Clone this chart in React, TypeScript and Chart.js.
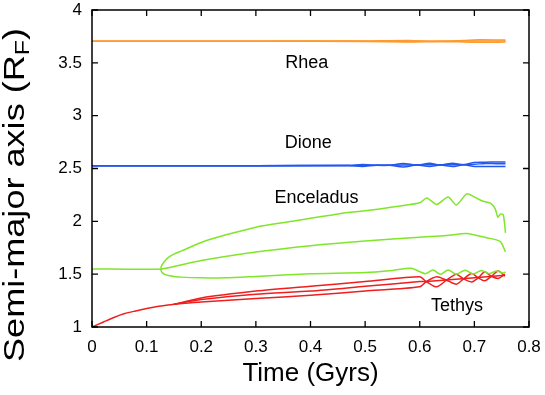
import React, { useEffect, useRef } from 'react';
import { Chart, registerables } from 'chart.js';

Chart.register(...registerables);

type P = [number, number];

// ---- axis ranges / ticks ----
const xRange: P = [0, 0.8];
const yRange: P = [1, 4];
const xStep = 0.1;
const yStep = 0.5;

// ---- Rhea (orange) ----
const rheaA: P[] = [[0, 3.705], [0.3, 3.705], [0.5, 3.707], [0.58, 3.711], [0.64, 3.702], [0.7, 3.717], [0.757, 3.715]];
const rheaB: P[] = [[0, 3.705], [0.3, 3.705], [0.5, 3.705], [0.58, 3.703], [0.64, 3.706], [0.7, 3.706], [0.757, 3.706]];
const rheaC: P[] = [[0, 3.705], [0.3, 3.705], [0.5, 3.703], [0.58, 3.698], [0.64, 3.703], [0.7, 3.694], [0.757, 3.696]];

// ---- Dione (blue) ----
const dioneA: P[] = [[0, 2.525], [0.3, 2.527], [0.47, 2.528], [0.495, 2.538], [0.52, 2.53], [0.545, 2.53], [0.57, 2.548], [0.595, 2.532], [0.618, 2.55], [0.638, 2.533], [0.66, 2.55], [0.68, 2.535], [0.7, 2.558], [0.72, 2.56], [0.74, 2.562], [0.757, 2.562]];
const dioneB: P[] = [[0, 2.525], [0.3, 2.527], [0.47, 2.528], [0.495, 2.53], [0.52, 2.53], [0.57, 2.532], [0.618, 2.535], [0.66, 2.535], [0.7, 2.54], [0.72, 2.548], [0.74, 2.545], [0.757, 2.545]];
const dioneC: P[] = [[0, 2.525], [0.3, 2.527], [0.47, 2.528], [0.495, 2.52], [0.52, 2.53], [0.545, 2.53], [0.57, 2.515], [0.595, 2.532], [0.618, 2.518], [0.638, 2.533], [0.66, 2.518], [0.68, 2.535], [0.7, 2.52], [0.72, 2.518], [0.74, 2.52], [0.757, 2.52]];

// ---- Enceladus (green) ----
const enceladusUpper: P[] = [[0.126, 1.55], [0.1262, 1.56], [0.127, 1.575], [0.129, 1.595], [0.132, 1.615], [0.136, 1.64], [0.14, 1.66], [0.15, 1.69], [0.164, 1.72], [0.2, 1.8], [0.244, 1.87], [0.3, 1.945], [0.366, 2.0], [0.4, 2.03], [0.44, 2.06], [0.472, 2.085], [0.5, 2.1], [0.53, 2.12], [0.564, 2.145], [0.6, 2.175], [0.613, 2.22], [0.631, 2.16], [0.652, 2.23], [0.667, 2.155], [0.686, 2.26], [0.7, 2.23], [0.716, 2.19], [0.73, 2.17], [0.738, 2.12], [0.743, 2.04], [0.748, 2.07], [0.753, 2.06], [0.757, 1.89]];
const enceladusMiddle: P[] = [[0, 1.55], [0.126, 1.55], [0.164, 1.59], [0.2, 1.63], [0.3, 1.71], [0.4, 1.77], [0.5, 1.815], [0.6, 1.85], [0.649, 1.865], [0.686, 1.885], [0.722, 1.845], [0.747, 1.81], [0.757, 1.71]];
const enceladusLower: P[] = [[0.126, 1.55], [0.1262, 1.54], [0.127, 1.527], [0.129, 1.512], [0.133, 1.498], [0.14, 1.488], [0.15, 1.479], [0.164, 1.472], [0.2, 1.466], [0.244, 1.465], [0.3, 1.478], [0.4, 1.503], [0.5, 1.515], [0.55, 1.535], [0.584, 1.555], [0.61, 1.505], [0.624, 1.54], [0.638, 1.5], [0.652, 1.54], [0.667, 1.5], [0.683, 1.537], [0.698, 1.502], [0.713, 1.535], [0.727, 1.505], [0.741, 1.53], [0.752, 1.51], [0.757, 1.52]];

// ---- Tethys (red) ----
const tethysA: P[] = [[0, 1.0], [0.02, 1.045], [0.04, 1.09], [0.06, 1.127], [0.08, 1.152], [0.1, 1.175], [0.122, 1.196], [0.15, 1.215], [0.2, 1.275], [0.3, 1.34], [0.4, 1.386], [0.5, 1.43], [0.6, 1.475], [0.612, 1.43], [0.631, 1.38], [0.649, 1.443], [0.667, 1.5], [0.68, 1.455], [0.695, 1.427], [0.707, 1.465], [0.719, 1.522], [0.731, 1.48], [0.744, 1.46], [0.756, 1.5]];
const tethysB: P[] = [[0.15, 1.215], [0.2, 1.26], [0.3, 1.31], [0.4, 1.34], [0.5, 1.385], [0.6, 1.43], [0.612, 1.43], [0.756, 1.49]];
const tethysC: P[] = [[0.15, 1.215], [0.2, 1.237], [0.3, 1.27], [0.4, 1.3], [0.5, 1.34], [0.6, 1.38], [0.612, 1.43], [0.631, 1.475], [0.649, 1.443], [0.667, 1.405], [0.68, 1.455], [0.695, 1.507], [0.707, 1.465], [0.719, 1.437], [0.731, 1.48], [0.744, 1.53], [0.756, 1.48]];

// ---- labels (text + anchor in data coords) ----
const labelTexts = ['Rhea', 'Dione', 'Enceladus', 'Tethys'];
const labelX = [0.393, 0.396, 0.411, 0.668];
const labelY = [3.452, 2.698, 2.176, 1.152];

const ORANGE = '#ff9a2e';
const BLUE = '#2457ee';
const GREEN = '#80e62a';
const RED = '#f01e1e';

const groups: { color: string; lines: P[][] }[] = [
  { color: ORANGE, lines: [rheaA, rheaB, rheaC] },
  { color: BLUE, lines: [dioneA, dioneB, dioneC] },
  { color: GREEN, lines: [enceladusUpper, enceladusMiddle, enceladusLower] },
  { color: RED, lines: [tethysA, tethysB, tethysC] },
];

const FONT = '"Liberation Sans", Arial, Helvetica, sans-serif';
const TICK = 6;

const framePlugin = {
  id: 'frame',
  afterDraw(chart: any) {
    const { ctx, chartArea: a, scales } = chart;
    const xs = scales.x;
    const ys = scales.y;
    ctx.save();
    ctx.strokeStyle = '#000';
    ctx.lineWidth = 1.5;
    ctx.strokeRect(a.left, a.top, a.right - a.left, a.bottom - a.top);
    ctx.lineWidth = 1.3;
    ctx.beginPath();
    for (const t of xs.ticks) {
      const px = xs.getPixelForValue(t.value);
      ctx.moveTo(px, a.bottom);
      ctx.lineTo(px, a.bottom - TICK);
      ctx.moveTo(px, a.top);
      ctx.lineTo(px, a.top + TICK);
    }
    for (const t of ys.ticks) {
      const py = ys.getPixelForValue(t.value);
      ctx.moveTo(a.left, py);
      ctx.lineTo(a.left + TICK, py);
      ctx.moveTo(a.right, py);
      ctx.lineTo(a.right - TICK, py);
    }
    ctx.stroke();

    // annotations
    ctx.fillStyle = '#000';
    ctx.font = `18px ${FONT}`;
    ctx.textAlign = 'center';
    ctx.textBaseline = 'alphabetic';
    labelTexts.forEach((s, i) => {
      ctx.fillText(s, xs.getPixelForValue(labelX[i]), ys.getPixelForValue(labelY[i]));
    });

    // x title
    ctx.font = `26px ${FONT}`;
    ctx.fillText('Time (Gyrs)', (a.left + a.right) / 2, 381);

    // y title with subscript
    const big = `29px ${FONT}`;
    const small = `20px ${FONT}`;
    const p1 = 'Semi-major axis (R';
    const p2 = 'F';
    const p3 = ')';
    ctx.font = big;
    const w1 = ctx.measureText(p1).width;
    const w3 = ctx.measureText(p3).width;
    ctx.font = small;
    const w2 = ctx.measureText(p2).width;
    const total = w1 + w2 + w3;
    const stretch = 334 / total;
    ctx.translate(24, 195);
    ctx.rotate(-Math.PI / 2);
    ctx.scale(stretch, 1);
    ctx.textAlign = 'left';
    let x0 = -total / 2;
    ctx.font = big;
    ctx.fillText(p1, x0, 0);
    x0 += w1;
    ctx.font = small;
    ctx.fillText(p2, x0, 5);
    x0 += w2;
    ctx.font = big;
    ctx.fillText(p3, x0, 0);
    ctx.restore();
  },
};

export default function App() {
  const ref = useRef<HTMLCanvasElement>(null);
  useEffect(() => {
    document.body.style.margin = '0';
    const datasets: any[] = [];
    groups.forEach((g) => {
      g.lines.forEach((line) => {
        datasets.push({
          data: line.map(([x, y]) => ({ x, y })),
          borderColor: g.color,
          backgroundColor: g.color,
          borderWidth: 1.5,
          pointRadius: 0,
          showLine: true,
          fill: false,
          tension: 0.25,
        });
      });
    });
    const noPad = (s: any) => {
      s.paddingTop = 0;
      s.paddingBottom = 0;
      s.paddingLeft = 0;
      s.paddingRight = 0;
    };
    const chart = new Chart(ref.current!, {
      type: 'scatter',
      data: { datasets },
      options: {
        responsive: false,
        animation: false,
        devicePixelRatio: 1,
        layout: { padding: { top: 10, right: 16, left: 0, bottom: 0 } },
        plugins: { legend: { display: false }, tooltip: { enabled: false } },
        scales: {
          x: {
            type: 'linear',
            min: xRange[0],
            max: xRange[1],
            ticks: {
              stepSize: xStep,
              padding: 10,
              color: '#000',
              font: { family: FONT, size: 17 },
              maxRotation: 0,
              callback: (v: any) => String(Number(Number(v).toFixed(1))),
            },
            grid: { display: false, drawTicks: false },
            border: { display: false },
            afterFit: (s: any) => { s.height = 68; noPad(s); },
          },
          y: {
            type: 'linear',
            min: yRange[0],
            max: yRange[1],
            ticks: {
              stepSize: yStep,
              padding: 10,
              color: '#000',
              font: { family: FONT, size: 17 },
              callback: (v: any) => String(Number(Number(v).toFixed(1))),
            },
            grid: { display: false, drawTicks: false },
            border: { display: false },
            afterFit: (s: any) => { s.width = 92; noPad(s); },
          },
        },
      },
      plugins: [framePlugin],
    });
    return () => chart.destroy();
  }, []);
  return (
    <div style={{ width: 545, height: 395 }}>
      <canvas ref={ref} width={545} height={395} />
    </div>
  );
}
